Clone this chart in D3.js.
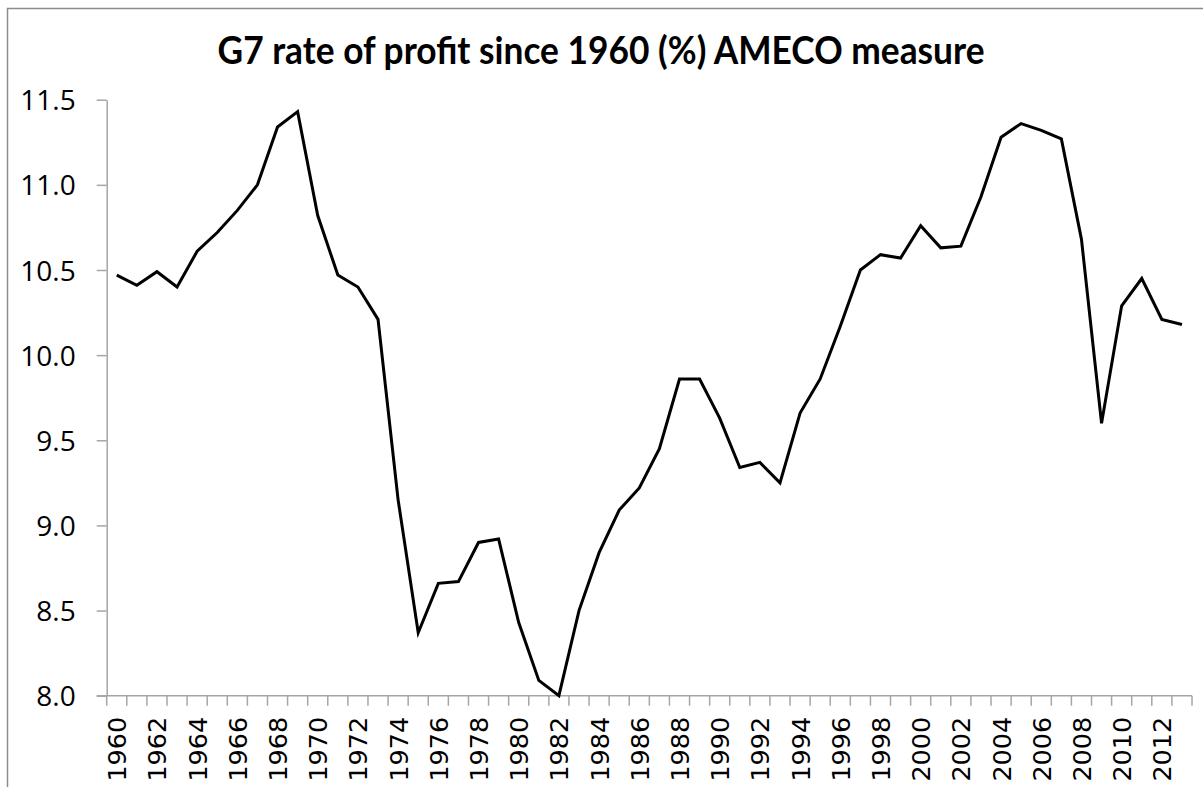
<!DOCTYPE html>
<html>
<head>
<meta charset="utf-8">
<script src="https://cdn.jsdelivr.net/npm/d3@7"></script>
<style>
  body { margin: 0; background: #fff; }
  svg { display: block; }
</style>
</head>
<body>
<svg id="chart"></svg>
<script>
const title = 'G7 rate of profit since 1960 (%) AMECO measure';

const years = [
  1960, 1961, 1962, 1963, 1964, 1965, 1966, 1967, 1968, 1969,
  1970, 1971, 1972, 1973, 1974, 1975, 1976, 1977, 1978, 1979,
  1980, 1981, 1982, 1983, 1984, 1985, 1986, 1987, 1988, 1989,
  1990, 1991, 1992, 1993, 1994, 1995, 1996, 1997, 1998, 1999,
  2000, 2001, 2002, 2003, 2004, 2005, 2006, 2007, 2008, 2009,
  2010, 2011, 2012, 2013
];

const profitRate = [
  10.47, 10.41, 10.49, 10.40, 10.61, 10.72, 10.85, 11.00, 11.34, 11.43,
  10.82, 10.47, 10.40, 10.21, 9.15, 8.37, 8.66, 8.67, 8.90, 8.92,
  8.43, 8.09, 8.00, 8.50, 8.84, 9.09, 9.22, 9.45, 9.86, 9.86,
  9.63, 9.34, 9.37, 9.25, 9.66, 9.86, 10.17, 10.50, 10.59, 10.57,
  10.76, 10.63, 10.64, 10.93, 11.28, 11.36, 11.32, 11.27, 10.68, 9.60,
  10.29, 10.45, 10.21, 10.18
];

const yTicks = [8.0, 8.5, 9.0, 9.5, 10.0, 10.5, 11.0, 11.5];

const W = 1203, H = 787;
const plot = { left: 106.7, right: 1192, top: 99.7, bottom: 695.7 };
const axisColor = '#a6a6a6';

const svg = d3.select('#chart').attr('width', W).attr('height', H);

// chart frame (runs off the right and bottom edge)
svg.append('rect')
  .attr('x', 7.5).attr('y', 8.5)
  .attr('width', W + 20).attr('height', H + 20)
  .attr('fill', '#fff')
  .attr('stroke', '#8c8c8c')
  .attr('stroke-width', 1.5);

const x = d3.scaleBand().domain(years).range([plot.left, plot.right]).padding(0);
const y = d3.scaleLinear().domain([8, 11.5]).range([plot.bottom, plot.top]);

// title
svg.append('text')
  .attr('x', 601).attr('y', 64)
  .attr('text-anchor', 'middle')
  .attr('font-family', 'Lato, "Open Sans", sans-serif')
  .attr('font-weight', 'bold')
  .attr('font-size', 38)
  .attr('fill', '#000')
  .attr('textLength', 767)
  .attr('lengthAdjust', 'spacingAndGlyphs')
  .text(title);

// y axis
const yAxis = svg.append('g')
  .attr('transform', `translate(${plot.left},0)`)
  .call(d3.axisLeft(y).tickValues(yTicks).tickFormat(d3.format('.1f')).tickSize(10).tickSizeOuter(0).tickPadding(21));
yAxis.attr('font-family', '"Open Sans", sans-serif').attr('font-size', 28);
yAxis.select('.domain').attr('stroke', axisColor).attr('stroke-width', 1.5);
yAxis.selectAll('.tick line').attr('stroke', axisColor).attr('stroke-width', 1.5);
yAxis.selectAll('.tick text')
  .attr('fill', '#000')
  .attr('dy', '0.36em');

// x axis: boundary ticks between categories
const xAxis = svg.append('g')
  .attr('transform', `translate(0,${plot.bottom})`)
  .attr('font-family', '"DejaVu Sans", sans-serif')
  .attr('font-size', 25.5);
xAxis.append('line')
  .attr('x1', plot.left - 10).attr('x2', plot.right)
  .attr('stroke', axisColor).attr('stroke-width', 1.5);
xAxis.selectAll('line.tk')
  .data(years.concat([null]))
  .enter().append('line')
  .attr('class', 'tk')
  .attr('x1', d => d === null ? plot.right : x(d))
  .attr('x2', d => d === null ? plot.right : x(d))
  .attr('y1', 0).attr('y2', 10)
  .attr('stroke', axisColor).attr('stroke-width', 1.5);

xAxis.selectAll('text')
  .data(years.filter((d, i) => i % 2 === 0))
  .enter().append('text')
  .attr('transform', d => `translate(${x(d) + x.bandwidth() / 2 + 9.5},21) rotate(-90)`)
  .attr('text-anchor', 'end')
  .attr('fill', '#000')
  .text(d => d);

// line
const line = d3.line()
  .x((d, i) => x(years[i]) + x.bandwidth() / 2)
  .y(d => y(d));

svg.append('path')
  .datum(profitRate)
  .attr('d', line)
  .attr('fill', 'none')
  .attr('stroke', '#000')
  .attr('stroke-width', 3)
  .attr('stroke-linejoin', 'miter');
</script>
</body>
</html>
